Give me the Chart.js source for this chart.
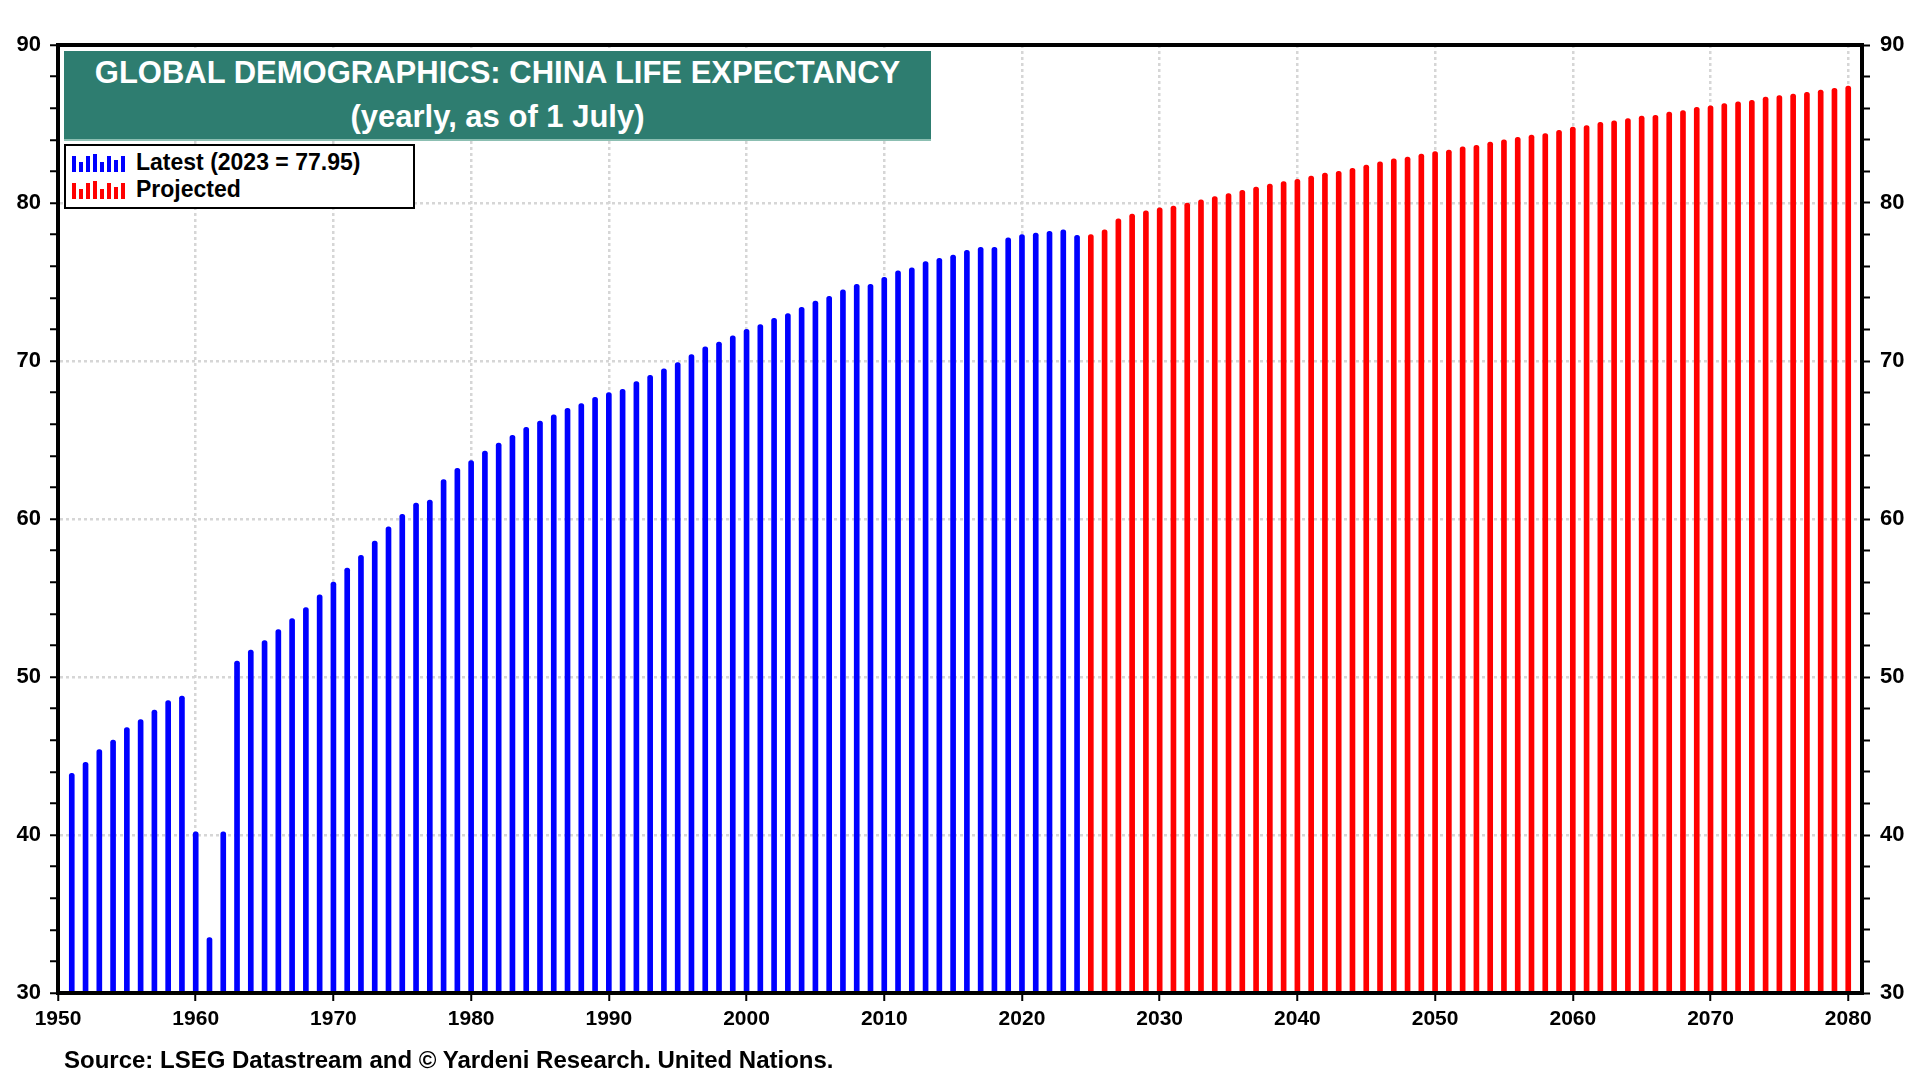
<!DOCTYPE html>
<html>
<head>
<meta charset="utf-8">
<script src="https://cdn.jsdelivr.net/npm/chart.js@4.4.1/dist/chart.umd.min.js"></script>
<style>
  body { margin: 0; background: #fff; font-family: "Liberation Sans", Arial, sans-serif; }
  #wrap { position: relative; width: 1920px; height: 1080px; overflow: hidden; }
  #title {
    position: absolute; left: 64px; top: 51px; width: 867px; height: 90px;
    background: #2e7d70; border-bottom: 2px solid #8cbfb2; box-sizing: border-box;
    color: #fff; font-weight: bold; font-size: 31px; text-align: center;
  }
  #title div { height: 44px; line-height: 44px; }
  #legend {
    position: absolute; left: 64px; top: 144px; width: 351px; height: 65px;
    border: 2.5px solid #000; box-sizing: border-box; background: #fff;
    padding: 3px 0 0 6px; font-weight: bold; font-size: 23px;
  }
  .row { height: 27px; line-height: 27px; display: flex; align-items: center; }
  .icon { width: 54px; height: 18px; display: flex; align-items: flex-end; gap: 3.5px; margin-right: 10px; }
  .icon span { width: 3.5px; display: block; }
  #source {
    position: absolute; left: 64px; top: 1047px; font-weight: bold; font-size: 24px; line-height: 26px;
  }
</style>
</head>
<body>
<div id="wrap">
  <canvas id="chart" width="1920" height="1080"></canvas>
  <div id="title">
    <div>GLOBAL DEMOGRAPHICS: CHINA LIFE EXPECTANCY</div>
    <div>(yearly, as of 1 July)</div>
  </div>
  <div id="legend">
    <div class="row"><span class="icon" id="icon-latest"></span>Latest (2023 = 77.95)</div>
    <div class="row"><span class="icon" id="icon-proj"></span>Projected</div>
  </div>
  <div id="source">Source: LSEG Datastream and &copy; Yardeni Research. United Nations.</div>
</div>
<script>
// life expectancy at birth, China, years 1950-2023 (UN estimates)
const latestStart = 1950;
const latest = [
  43.9, 44.6, 45.4, 46.0, 46.8, 47.3, 47.9, 48.5, 48.8, 40.2,
  33.5, 40.2, 51.0, 51.7, 52.3, 53.0, 53.7, 54.4, 55.2, 56.0,
  56.9, 57.7, 58.6, 59.5, 60.3, 61.0, 61.2, 62.5, 63.2, 63.7,
  64.3, 64.8, 65.3, 65.8, 66.2, 66.6, 67.0, 67.3, 67.7, 68.0,
  68.2, 68.7, 69.1, 69.5, 69.9, 70.4, 70.9, 71.2, 71.6, 72.0,
  72.3, 72.7, 73.0, 73.4, 73.8, 74.1, 74.5, 74.85, 74.85, 75.3,
  75.7, 75.9, 76.3, 76.5, 76.7, 77.0, 77.2, 77.2, 77.8, 78.0,
  78.1, 78.2, 78.3, 77.95
];

// UN projections, years 2024-2079
const projStart = 2024;
const projected = [
  78.0, 78.3, 79.0, 79.3, 79.5, 79.7, 79.8, 80.0, 80.2, 80.4,
  80.6, 80.8, 81.0, 81.2, 81.35, 81.5, 81.7, 81.9, 82.0, 82.2,
  82.4, 82.6, 82.8, 82.9, 83.1, 83.25,
  83.35, 83.55, 83.65, 83.85, 84.0, 84.15, 84.3, 84.4, 84.6, 84.8,
  84.9, 85.1, 85.2, 85.35, 85.5, 85.55, 85.75, 85.85, 86.05, 86.15,
  86.3, 86.4, 86.5, 86.7, 86.8, 86.9, 87.0, 87.15, 87.25, 87.4
];

const latestYears = latest.map((v, i) => latestStart + i);
const projYears = projected.map((v, i) => projStart + i);

// mid-year values are drawn at the end of their year
const toPoints = (years, vals) => vals.map((v, i) => ({ x: years[i] + 1, y: v }));

// little bar icons for the legend
function fillIcon(id, color) {
  const hs = [16, 10, 16, 18, 10, 16, 12, 16];
  const el = document.getElementById(id);
  hs.forEach(h => {
    const s = document.createElement('span');
    s.style.height = h + 'px';
    s.style.background = color;
    el.appendChild(s);
  });
}
fillIcon('icon-latest', '#0000ff');
fillIcon('icon-proj', '#ff0000');

const frame = {
  id: 'frame',
  afterDatasetsDraw(chart) {
    const { ctx, chartArea: a } = chart;
    ctx.save();
    ctx.strokeStyle = '#000';
    ctx.lineWidth = 4;
    ctx.strokeRect(a.left, a.top, a.right - a.left, a.bottom - a.top);
    ctx.restore();
  }
};

Chart.defaults.font.family = '"Liberation Sans", Arial, sans-serif';
Chart.defaults.font.weight = 'bold';
Chart.defaults.font.size = 21;
Chart.defaults.color = '#000';

const gridColor = (ctx) => (ctx.tick && ctx.tick.value % 10 === 0) ? '#d6d6d6' : 'rgba(0,0,0,0)';
const yTicks = (v) => (v % 10 === 0 ? v : '');

new Chart(document.getElementById('chart'), {
  type: 'bar',
  data: {
    datasets: [
      {
        label: 'Latest (2023 = 77.95)',
        data: toPoints(latestYears, latest),
        backgroundColor: '#0000ff',
        barThickness: 5,
        borderRadius: 2.5,
        borderSkipped: 'start'
      },
      {
        label: 'Projected',
        data: toPoints(projYears, projected),
        backgroundColor: '#ff0000',
        barThickness: 5,
        borderRadius: 2.5,
        borderSkipped: 'start'
      }
    ]
  },
  options: {
    responsive: false,
    devicePixelRatio: 1,
    animation: false,
    layout: { padding: { top: 45, left: 0, right: 0, bottom: 0 } },
    datasets: { bar: { grouped: false } },
    plugins: { legend: { display: false }, tooltip: { enabled: false } },
    scales: {
      x: {
        type: 'linear',
        min: 1950,
        max: 2081,
        offset: false,
        afterFit: (s) => { s.height = 87; },
        ticks: { stepSize: 10, includeBounds: false, padding: 6, maxRotation: 0, callback: (v) => v },
        grid: { offset: false, color: gridColor, lineWidth: 2.5, tickLength: 8, tickColor: '#000', tickWidth: 2 },
        border: { display: true, color: '#000', width: 4, dash: [3, 3] }
      },
      y: {
        position: 'left',
        min: 30,
        max: 90,
        afterFit: (s) => { s.width = 58; },
        ticks: { stepSize: 2, padding: 9, font: { size: 22 }, callback: yTicks },
        grid: { color: gridColor, lineWidth: 2.5, tickLength: 8, tickColor: '#000', tickWidth: 2 },
        border: { display: true, color: '#000', width: 4, dash: [3, 3] }
      },
      y2: {
        position: 'right',
        min: 30,
        max: 90,
        afterFit: (s) => { s.width = 58; },
        ticks: { stepSize: 2, padding: 10, font: { size: 22 }, callback: yTicks },
        grid: { drawOnChartArea: false, tickLength: 8, tickColor: '#000', tickWidth: 2 },
        border: { display: true, color: '#000', width: 4 }
      }
    }
  },
  plugins: [frame]
});
</script>
</body>
</html>
